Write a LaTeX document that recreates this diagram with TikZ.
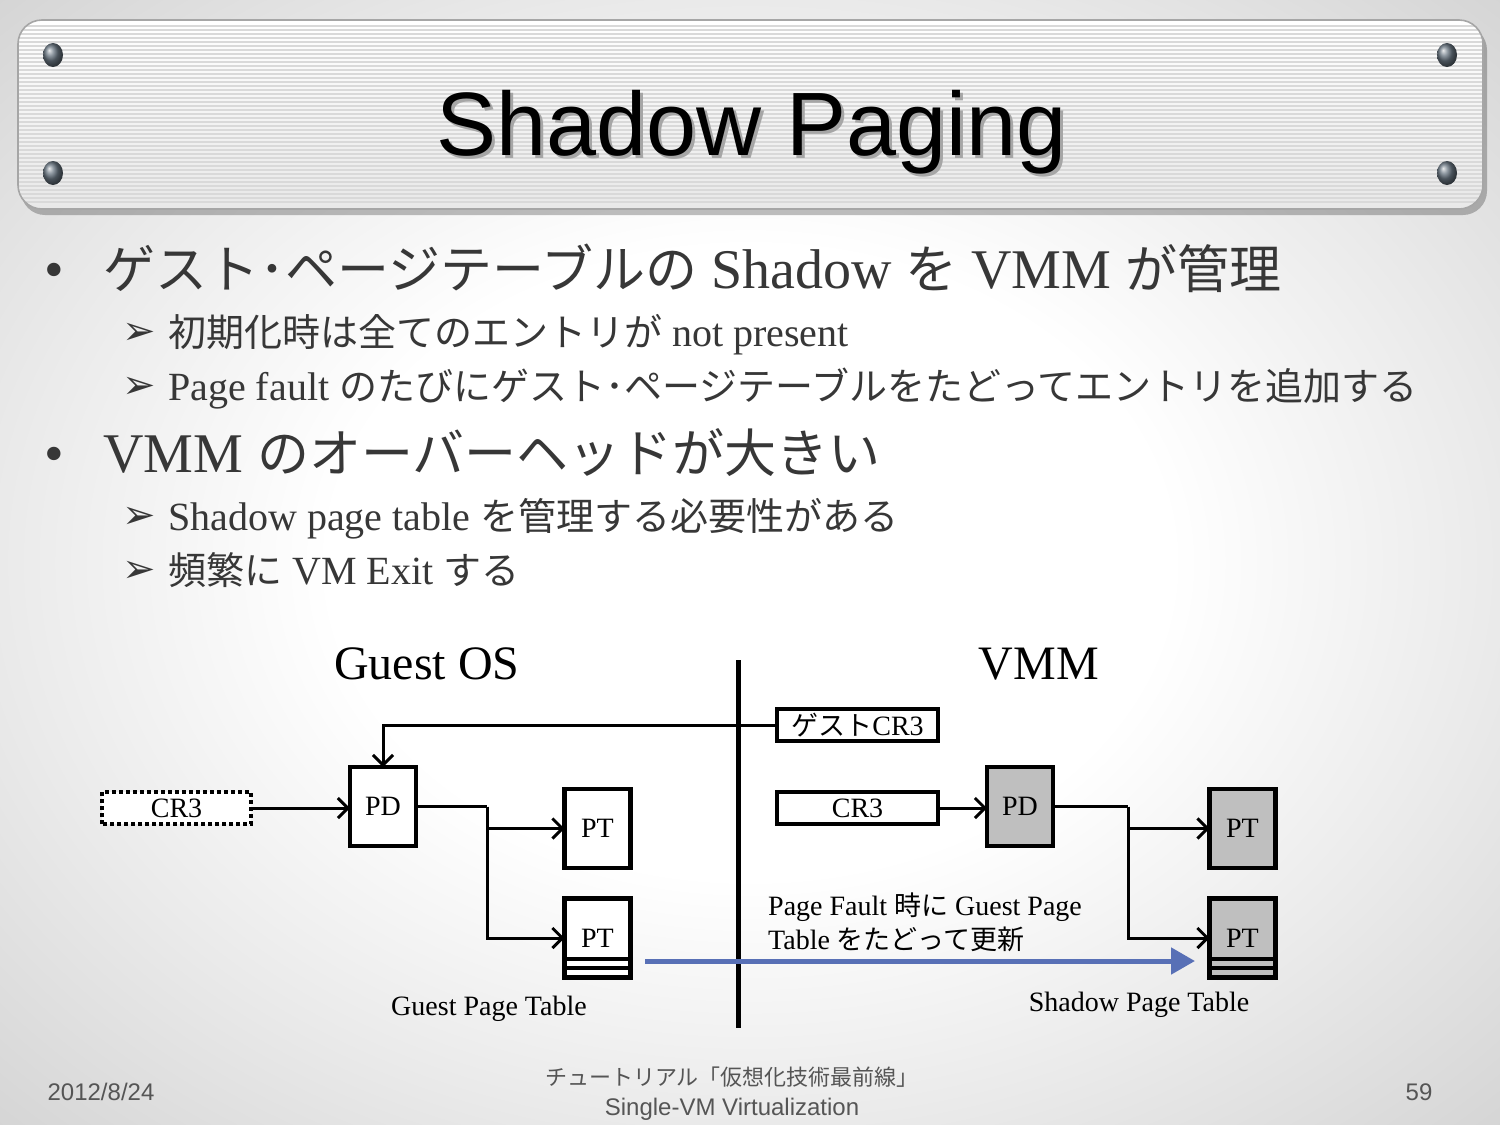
\documentclass[tikz,border=0pt]{standalone}
\usepackage{fontspec}
\setmainfont{Liberation Serif}
\newfontfamily\jpf{Noto Sans CJK JP}
\newfontfamily\symf{DejaVu Sans}
\newfontfamily\helf{Liberation Sans}
\usetikzlibrary{arrows.meta,calc,shadings}
\definecolor{txt}{RGB}{55,55,55}
\definecolor{boxgray}{RGB}{191,191,191}
\definecolor{blu}{RGB}{88,112,182}
\definecolor{foot}{RGB}{85,85,85}
\definecolor{bgmid}{RGB}{234,234,234}
\definecolor{bgedge}{RGB}{212,212,212}
\definecolor{screw}{RGB}{105,118,130}
\pgfdeclareradialshading{bgshade}{\pgfpoint{0bp}{0bp}}{color(0bp)=(white); color(14bp)=(white); color(25bp)=(bgmid); color(36bp)=(bgedge); color(50bp)=(bgedge)}
\newcommand{\fs}[1]{\fontsize{#1}{#1}\selectfont}
\newcommand{\jb}[1]{{\fontsize{52}{52}\jpf #1}}
\newcommand{\js}[1]{{\fontsize{38}{38}\jpf #1}}
\newcommand{\jd}[1]{{\fontsize{27}{27}\jpf #1}}
\newcommand{\shadowed}[1]{\makebox[0pt][l]{\hspace{3pt}\raisebox{-3pt}{\color{black!35}#1}}#1}
\begin{document}
\begin{tikzpicture}[x=1pt,y=-1pt,
  every node/.style={inner sep=0pt},
  box/.style={draw=black,line width=4.5pt,outer sep=0pt,minimum width=66pt,minimum height=79pt,fill=white,font=\fs{28}},
  sbox/.style={box,fill=boxgray},
  regbox/.style={draw=black,line width=4.5pt,outer sep=0pt,minimum width=161pt,minimum height=32pt,fill=white,font=\fs{28}},
  conn/.style={line width=3pt,-{Straight Barb[length=10pt,width=20pt]}},
  bul/.style={anchor=base west,text=txt,font=\fs{56}},
  sub/.style={anchor=base west,text=txt,font=\fs{40}},
  arr/.style={anchor=base west,text=txt,font=\fs{40}\symf},
  lab/.style={anchor=base,font=\fs{28}},
  foottxt/.style={anchor=base,text=foot,font=\fs{24}\helf}]
\useasboundingbox (0,0) rectangle (1500,1125);
% background
\shade[shading=bgshade] (0,0) rectangle (1500,1125);
% banner
\fill[black,opacity=0.25,rounded corners=24pt] (21,26) rectangle (1487,215);
\shade[top color=white,bottom color={rgb,255:red,232;green,232;blue,232},rounded corners=24pt] (18,20) rectangle (1483,209);
\begin{scope}
\clip[rounded corners=24pt] (18,20) rectangle (1483,209);
\foreach \yy in {26,30,...,204} \draw[gray!30,line width=1.2pt] (18,\yy) -- (1483,\yy);
\end{scope}
\draw[gray!70,line width=1.6pt,rounded corners=24pt] (18,20) rectangle (1483,209);
\foreach \sx/\sy in {53/55,1447/55,53/173,1447/173}
  \shade[ball color=screw] (\sx,\sy) ellipse [x radius=10,y radius=12];
\node[font=\fs{90}\helf,text=black,anchor=base] (title) at (752,155) {\shadowed{Shadow Paging}};
% bullets
\node[bul] (d1) at (44,288) {•};
\node[bul] (b1) at (103,288) {\jb{ゲスト･ページテーブルの} Shadow \jb{を} VMM \jb{が管理}};
\node[arr] (a1) at (122,344) {➢};
\node[sub] (s1) at (168,346) {\js{初期化時は全てのエントリが} not present};
\node[arr] (a2) at (122,398) {➢};
\node[sub] (s2) at (168,400) {Page fault \js{のたびにゲスト･ページテーブルをたどってエントリを追加する}};
\node[bul] (d2) at (44,472) {•};
\node[bul] (b2) at (103,472) {VMM \jb{のオーバーヘッドが大きい}};
\node[arr] (a3) at (122,528) {➢};
\node[sub] (s3) at (168,530) {Shadow page table \js{を管理する必要性がある}};
\node[arr] (a4) at (122,582) {➢};
\node[sub] (s4) at (168,584) {\js{頻繁に} VM Exit \js{する}};
% diagram headings
\node[anchor=base,font=\fs{48}] (gos) at (427,679) {Guest OS};
\node[anchor=base,font=\fs{48}] (vmm) at (1039,679) {VMM};
% divider
\coordinate (dtop) at (738,660);
\coordinate (dbot) at (738,1028);
\draw[line width=5pt] (dtop) -- (dbot);
% guest side
\node[regbox,minimum width=149pt,draw=none] (cr3g) at (176.5,808) {CR3};
\draw[line width=4.5pt,dash pattern=on 4pt off 3pt] (cr3g.south west) rectangle (cr3g.north east);
\node[box] (pdg) at (383,806.5) {PD};
\node[box] (pt1g) at (597.5,828.5) {PT};
\node[box] (pt2g) at (597.5,938) {PT};
\draw[line width=4pt] ([yshift=19pt]pt2g.south west) -- ([yshift=19pt]pt2g.south east);
\draw[line width=4pt] ([yshift=10pt]pt2g.south west) -- ([yshift=10pt]pt2g.south east);
% vmm side
\node[regbox] (gcr3) at (857.5,725) {\jd{ゲスト}CR3};
\node[regbox] (cr3s) at (857.5,808) {CR3};
\node[sbox] (pds) at (1020,806.5) {PD};
\node[sbox] (pt1s) at (1242.5,828.5) {PT};
\node[sbox] (pt2s) at (1242.5,938) {PT};
\draw[line width=4pt] ([yshift=19pt]pt2s.south west) -- ([yshift=19pt]pt2s.south east);
\draw[line width=4pt] ([yshift=10pt]pt2s.south west) -- ([yshift=10pt]pt2s.south east);
% connectors
\draw[conn] (cr3g.east) -- (cr3g.east -| pdg.west);
\draw[conn] (gcr3.west) -| (pdg.north);
\coordinate (gj) at ($(pdg.east)+(71,0)$);
\draw[line width=3pt] (pdg.east) -- (gj);
\draw[conn] (gj) |- (pt1g.west);
\draw[conn] (gj) |- (pt2g.west);
\draw[conn] (cr3s.east) -- (cr3s.east -| pds.west);
\coordinate (sj) at ($(pds.east)+(75,0)$);
\draw[line width=3pt] (pds.east) -- (sj);
\draw[conn] (sj) |- (pt1s.west);
\draw[conn] (sj) |- (pt2s.west);
% blue arrow
\coordinate (bs) at (645,961);
\coordinate (be) at (1195,961);
\draw[blu,line width=5pt,-{Triangle[length=24pt,width=26pt]}] (bs) -- (be);
% labels
\node[anchor=base west,font=\fs{28}] (pf1) at (768,915) {Page Fault \jd{時に} Guest Page};
\node[anchor=base west,font=\fs{28}] (pf2) at (768,949) {Table \jd{をたどって更新}};
\node[lab] (gpt) at (489,1015) {Guest Page Table};
\node[lab] (spt) at (1139,1011) {Shadow Page Table};
% footer
\node[foottxt] (date) at (101,1100) {2012/8/24};
\node[anchor=base,text=foot,font=\fs{22}\jpf] (ft1) at (732,1085) {チュートリアル「仮想化技術最前線」};
\node[foottxt] (ft2) at (732,1115) {Single-VM Virtualization};
\node[foottxt] (pg) at (1419,1100) {59};
\end{tikzpicture}
\end{document}
